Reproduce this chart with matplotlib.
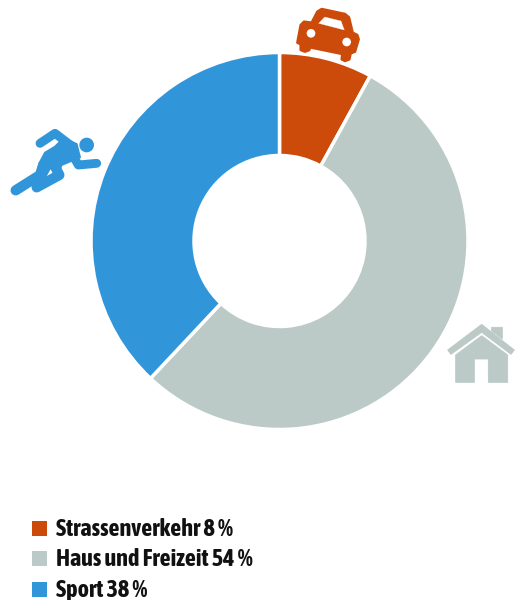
import matplotlib
matplotlib.use("Agg")
import matplotlib.pyplot as plt
from matplotlib.patches import Polygon, Circle, Rectangle

categories = ["Strassenverkehr", "Haus und Freizeit", "Sport"]
values = [8, 54, 38]
colors = ["#CC4A0A", "#BBCAC6", "#3196D9"]

W, H = 515, 600
fig = plt.figure(figsize=(W / 100, H / 100), dpi=100)
ax = fig.add_axes([0, 0, 1, 1])

# donut
ax.pie(values, colors=colors, startangle=90, counterclock=False,
       center=(279.5, H - 241), radius=188.5, frame=True,
       wedgeprops=dict(width=103, edgecolor="white", linewidth=2.5))
ax.set_xlim(0, W)
ax.set_ylim(0, H)
ax.set_aspect("auto")
ax.axis("off")

def P(pts, ox, oy, s=1 / 3):
    return [(ox + x * s, H - (oy + y * s)) for x, y in pts]

def poly(pts, ox, oy, c, **kw):
    ax.add_patch(Polygon(P(pts, ox, oy), closed=True, facecolor=c, edgecolor=kw.pop("ec", c),
                         linewidth=kw.pop("lw", 0.6), joinstyle="round", zorder=kw.pop("z", 5)))

def circ(x, y, r, ox, oy, c, z=6):
    (cx, cy), = P([(x, y)], ox, oy)
    ax.add_patch(Circle((cx, cy), r / 3, facecolor=c, edgecolor="none", zorder=z))

def stroke(pts, ox, oy, c, lw):
    q = P(pts, ox, oy)
    ax.plot([p[0] for p in q], [p[1] for p in q], color=c, lw=lw,
            solid_capstyle="round", solid_joinstyle="round", zorder=5)

# car icon
o = colors[0]
car = [(52, 128), (62, 75), (72, 65), (95, 68), (112, 35), (125, 27), (195, 42), (207, 52),
       (218, 98), (232, 105), (236, 118), (225, 155), (212, 160), (208, 178), (195, 183),
       (185, 178), (187, 162), (90, 142), (88, 150), (75, 155), (62, 150), (62, 133)]
poly(car, 280, 0, o, lw=1.8)
poly([(116, 70), (134, 51), (183, 63), (193, 90)], 280, 0, "white", ec="white", lw=0.2, z=6)
circ(93, 100, 13, 280, 0, "white")
circ(200, 126, 13, 280, 0, "white")

# runner icon
b = colors[2]
circ(260, 75, 22, 0, 120, b)
stroke([(120, 70), (165, 40), (215, 78)], 0, 120, b, 6.4)
stroke([(215, 100), (235, 135), (290, 130)], 0, 120, b, 6.4)
poly([(135, 98), (165, 80), (190, 55), (230, 72), (240, 112), (185, 135), (178, 150),
      (150, 145), (135, 172), (108, 170), (118, 130)], 0, 120, b, lw=1.4)
stroke([(47, 211), (120, 165), (130, 135)], 0, 120, b, 7.4)
stroke([(110, 202), (178, 165), (160, 130)], 0, 120, b, 7.4)

# house icon
g = colors[1]
poly([(38, 105), (140, 28), (238, 105), (228, 118), (140, 52), (48, 118)], 435, 315, g)
poly([(170, 37), (202, 37), (202, 72), (170, 48)], 435, 315, g)
poly([(62, 120), (140, 62), (218, 120), (218, 202), (160, 202), (160, 132), (118, 132),
      (118, 202), (62, 202)], 435, 315, g)

# legend
sq_y = [520.5, 551, 582]
tx_y = [529.5, 559.5, 590]
for cat, v, c, sy, ty in zip(categories, values, colors, sq_y, tx_y):
    ax.add_patch(Rectangle((31.5, H - sy - 15), 15, 15, facecolor=c, edgecolor="none"))
    ax.text(56, H - ty, f"{cat} {v} %", family=["Asap Condensed", "DejaVu Sans"],
            weight="bold", fontsize=17.4, color="#111111", va="center", ha="left")

fig.savefig("out.png", dpi=100)
